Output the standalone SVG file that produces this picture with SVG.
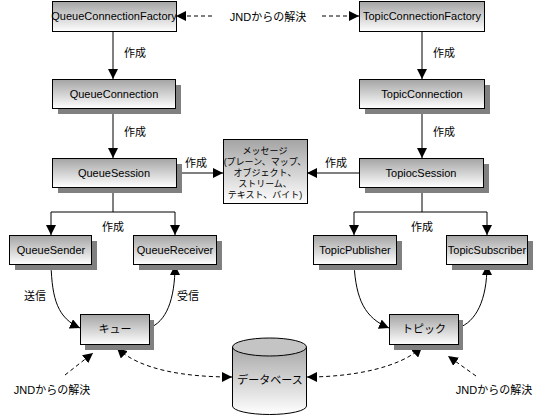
<svg xmlns="http://www.w3.org/2000/svg" width="543" height="417" viewBox="0 0 543 417">
<defs>
<linearGradient id="g" x1="0" y1="0" x2="0" y2="1">
<stop offset="0" stop-color="#a4a4a4"/>
<stop offset="1" stop-color="#ffffff"/>
</linearGradient>
<linearGradient id="gc" x1="0" y1="0" x2="0" y2="1">
<stop offset="0" stop-color="#a8a8a8"/>
<stop offset="1" stop-color="#ffffff"/>
</linearGradient>
<marker id="ah" viewBox="0 0 10 10" refX="10" refY="5" markerWidth="10" markerHeight="10" markerUnits="userSpaceOnUse" orient="auto-start-reverse">
<path d="M0,0 L10,5 L0,10 Z" fill="#000"/>
</marker>
<style>
.box{fill:url(#g);stroke:#000;stroke-width:1}
.sh{fill:#808080}
.t{font-family:"Liberation Sans","Noto Sans CJK JP",sans-serif;font-size:11px;fill:#000;text-anchor:middle}
.s{font-family:"Liberation Sans","Noto Sans CJK JP",sans-serif;font-size:9px;fill:#000;text-anchor:middle}
.c{fill:none;stroke:#000;stroke-width:1}
.d{fill:none;stroke:#000;stroke-width:1;stroke-dasharray:4,3}
</style>
</defs>
<rect width="543" height="417" fill="#fff"/>
<g id="connectors">
<path class="c" d="M113,32 V79" marker-end="url(#ah)"/>
<path class="c" d="M113,109 V158" marker-end="url(#ah)"/>
<path class="c" d="M422,31 V79" marker-end="url(#ah)"/>
<path class="c" d="M422,109 V158" marker-end="url(#ah)"/>
<path class="c" d="M176,173 H223" marker-end="url(#ah)"/>
<path class="c" d="M359,173 H307" marker-end="url(#ah)"/>
<path class="c" d="M113,187 V212"/>
<path class="c" d="M51,212 H175"/>
<path class="c" d="M51,212 V235" marker-end="url(#ah)"/>
<path class="c" d="M175,212 V235" marker-end="url(#ah)"/>
<path class="c" d="M422,187 V212"/>
<path class="c" d="M354,212 H487"/>
<path class="c" d="M354,212 V235" marker-end="url(#ah)"/>
<path class="c" d="M487,212 V235" marker-end="url(#ah)"/>
<path class="c" d="M51,264 C52,300 58,318 80,328" marker-end="url(#ah)"/>
<path class="c" d="M149,328 C166,322 175,300 175,265" marker-end="url(#ah)"/>
<path class="c" d="M354,264 C356,300 365,318 389,328" marker-end="url(#ah)"/>
<path class="c" d="M458,328 C476,322 487,300 487,265" marker-end="url(#ah)"/>
<path class="d" d="M212,16 H176" marker-end="url(#ah)"/>
<path class="d" d="M322,16 H359" marker-end="url(#ah)"/>
<path class="d" d="M117,348 C140,370 185,377 232,377" marker-start="url(#ah)" marker-end="url(#ah)"/>
<path class="d" d="M422,347 C400,368 352,377 307,377" marker-start="url(#ah)" marker-end="url(#ah)"/>
<path class="d" d="M65,375 L93,353" marker-end="url(#ah)"/>
<path class="d" d="M476,376 L448,356" marker-end="url(#ah)"/>
<text class="t" x="268" y="21">JNDからの解決</text>
<text class="t" x="135" y="57">作成</text>
<text class="t" x="135" y="136">作成</text>
<text class="t" x="444" y="57">作成</text>
<text class="t" x="444" y="136">作成</text>
<text class="t" x="196" y="167">作成</text>
<text class="t" x="336" y="167">作成</text>
<text class="t" x="113" y="231">作成</text>
<text class="t" x="422" y="231">作成</text>
<text class="t" x="35" y="300">送信</text>
<text class="t" x="188" y="300">受信</text>
<text class="t" x="52" y="394">JNDからの解決</text>
<text class="t" x="494" y="394">JNDからの解決</text>
</g>
<g id="QueueConnectionFactory">
<rect class="box" x="52.5" y="1.5" width="124" height="30"/>
<text class="t" x="114" y="20">QueueConnectionFactory</text>
</g>
<g id="TopicConnectionFactory">
<rect class="box" x="359.5" y="1.5" width="125" height="30"/>
<text class="t" x="422" y="20">TopicConnectionFactory</text>
</g>
<g id="QueueConnection">
<rect class="sh" x="58" y="85" width="123" height="29"/>
<rect class="box" x="52.5" y="79.5" width="123" height="29"/>
<text class="t" x="114" y="98">QueueConnection</text>
</g>
<g id="TopicConnection">
<rect class="sh" x="365" y="85" width="125" height="29"/>
<rect class="box" x="359.5" y="79.5" width="125" height="29"/>
<text class="t" x="422" y="98">TopicConnection</text>
</g>
<g id="QueueSession">
<rect class="sh" x="58" y="164" width="124" height="29"/>
<rect class="box" x="52.5" y="158.5" width="124" height="29"/>
<text class="t" x="114" y="177">QueueSession</text>
</g>
<g id="TopiocSession">
<rect class="sh" x="365" y="164" width="124" height="29"/>
<rect class="box" x="359.5" y="158.5" width="124" height="29"/>
<text class="t" x="421" y="177">TopiocSession</text>
</g>
<g id="Message">
<rect class="box" x="223.5" y="139.5" width="84" height="64"/>
<text class="s" x="265" y="154">メッセージ</text>
<text class="s" x="265" y="165">(プレーン、マップ、</text>
<text class="s" x="265" y="176">オブジェクト、</text>
<text class="s" x="265" y="187">ストリーム、</text>
<text class="s" x="265" y="198">テキスト、バイト)</text>
</g>
<g id="QueueSender">
<rect class="sh" x="15" y="241" width="82" height="29"/>
<rect class="box" x="9.5" y="235.5" width="82" height="29"/>
<text class="t" x="51" y="254">QueueSender</text>
</g>
<g id="QueueReceiver">
<rect class="sh" x="139" y="241" width="83" height="29"/>
<rect class="box" x="133.5" y="235.5" width="83" height="29"/>
<text class="t" x="175" y="254">QueueReceiver</text>
</g>
<g id="TopicPublisher">
<rect class="sh" x="319" y="241" width="83" height="29"/>
<rect class="box" x="313.5" y="235.5" width="83" height="29"/>
<text class="t" x="355" y="254">TopicPublisher</text>
</g>
<g id="TopicSubscriber">
<rect class="sh" x="452" y="241" width="81" height="29"/>
<rect class="box" x="446.5" y="235.5" width="81" height="29"/>
<text class="t" x="487" y="254">TopicSubscriber</text>
</g>
<g id="Queue">
<rect class="sh" x="85" y="320" width="69" height="30"/>
<rect class="box" x="80.5" y="314.5" width="69" height="30"/>
<text class="t" x="115" y="333">キュー</text>
</g>
<g id="Topic">
<rect class="sh" x="394" y="320" width="69" height="30"/>
<rect class="box" x="389.5" y="314.5" width="69" height="30"/>
<text class="t" x="424" y="333">トピック</text>
</g>
<g id="Database">
<path d="M232.5,347 V406 A37,8.5 0 0 0 306.5,406 V347" fill="url(#gc)" stroke="#000"/>
<ellipse cx="269.5" cy="347" rx="37" ry="9" fill="#c4c4c4" stroke="#000"/>
<text class="t" x="270" y="384">データベース</text>
</g>
</svg>
